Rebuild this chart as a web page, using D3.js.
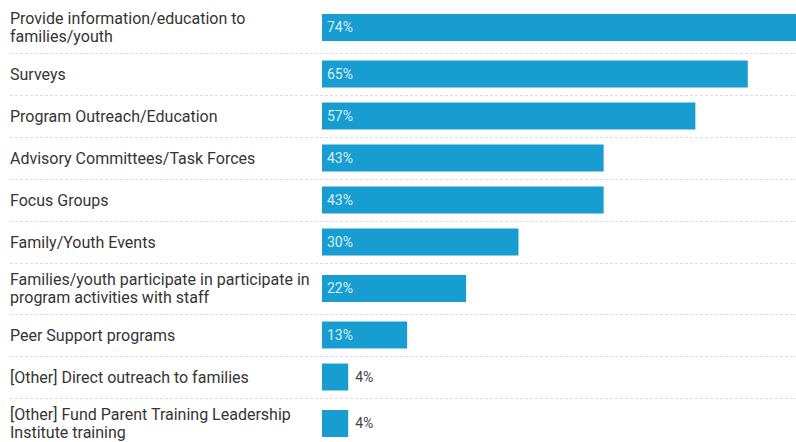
<!DOCTYPE html>
<html>
<head>
<meta charset="utf-8">
<script src="https://cdn.jsdelivr.net/npm/d3@7"></script>
<style>
  html, body { margin: 0; padding: 0; background: #fff; }
  svg { display: block; font-family: Roboto, "Noto Sans", sans-serif; }
</style>
</head>
<body>
<svg id="chart" width="796" height="442"></svg>
<script>
// Share of respondents using each engagement approach
const categories = [
  ["Provide information/education to", "families/youth"],
  ["Surveys"],
  ["Program Outreach/Education"],
  ["Advisory Committees/Task Forces"],
  ["Focus Groups"],
  ["Family/Youth Events"],
  ["Families/youth participate in participate in", "program activities with staff"],
  ["Peer Support programs"],
  ["[Other] Direct outreach to families"],
  ["[Other] Fund Parent Training Leadership", "Institute training"]
];
const values = [74, 65, 57, 43, 43, 30, 22, 13, 4, 4];
const valueLabels = ["74%", "65%", "57%", "43%", "43%", "30%", "22%", "13%", "4%", "4%"];

const W = 796, H = 442;
const barLeft = 322;
const barH = 27;
const labelX = 10;
const lineGap = 18.5;
const insideMin = 10; // values below this get their label outside the bar

const svg = d3.select("#chart");

// Rows grow with the number of label lines
const rowHeight = lines => lines.length > 1 ? 51 : 42;
const tops = [];
let acc = 2;
categories.forEach(c => { tops.push(acc); acc += rowHeight(c); });

const keys = categories.map((c, i) => i);
const yCenter = d3.scaleOrdinal()
  .domain(keys)
  .range(keys.map(i => tops[i] + rowHeight(categories[i]) / 2));

const x = d3.scaleLinear().domain([0, 100]).range([barLeft, barLeft + 655]);

// Row separators
svg.append("g")
  .selectAll("line")
  .data(keys.slice(1))
  .join("line")
  .attr("x1", labelX)
  .attr("x2", W)
  .attr("y1", i => tops[i] + 0.5)
  .attr("y2", i => tops[i] + 0.5)
  .attr("stroke", "#dcdcdc")
  .attr("stroke-width", 1)
  .attr("stroke-dasharray", "3,2");

// Category labels
const lab = svg.append("g")
  .selectAll("text")
  .data(keys)
  .join("text")
  .attr("x", labelX)
  .attr("fill", "#353535")
  .attr("font-size", 16);
lab.each(function(i) {
  const lines = categories[i];
  const c = yCenter(i);
  const first = c - (lines.length - 1) * lineGap / 2;
  d3.select(this).selectAll("tspan")
    .data(lines)
    .join("tspan")
    .attr("x", labelX)
    .attr("y", (d, j) => first + j * lineGap)
    .attr("dy", "0.35em")
    .text(d => d);
});

// Bars
svg.append("g")
  .selectAll("rect")
  .data(keys)
  .join("rect")
  .attr("x", x(0))
  .attr("y", i => yCenter(i) - barH / 2)
  .attr("width", i => x(values[i]) - x(0))
  .attr("height", barH)
  .attr("fill", "#189dd0");

// Value labels
svg.append("g")
  .selectAll("text")
  .data(keys)
  .join("text")
  .attr("x", i => values[i] >= insideMin ? x(0) + 5 : x(values[i]) + 7)
  .attr("y", i => yCenter(i))
  .attr("dy", "0.35em")
  .attr("font-size", 14)
  .attr("fill", i => values[i] >= insideMin ? "#d6eef9" : "#444")
  .text(i => valueLabels[i]);
</script>
</body>
</html>
